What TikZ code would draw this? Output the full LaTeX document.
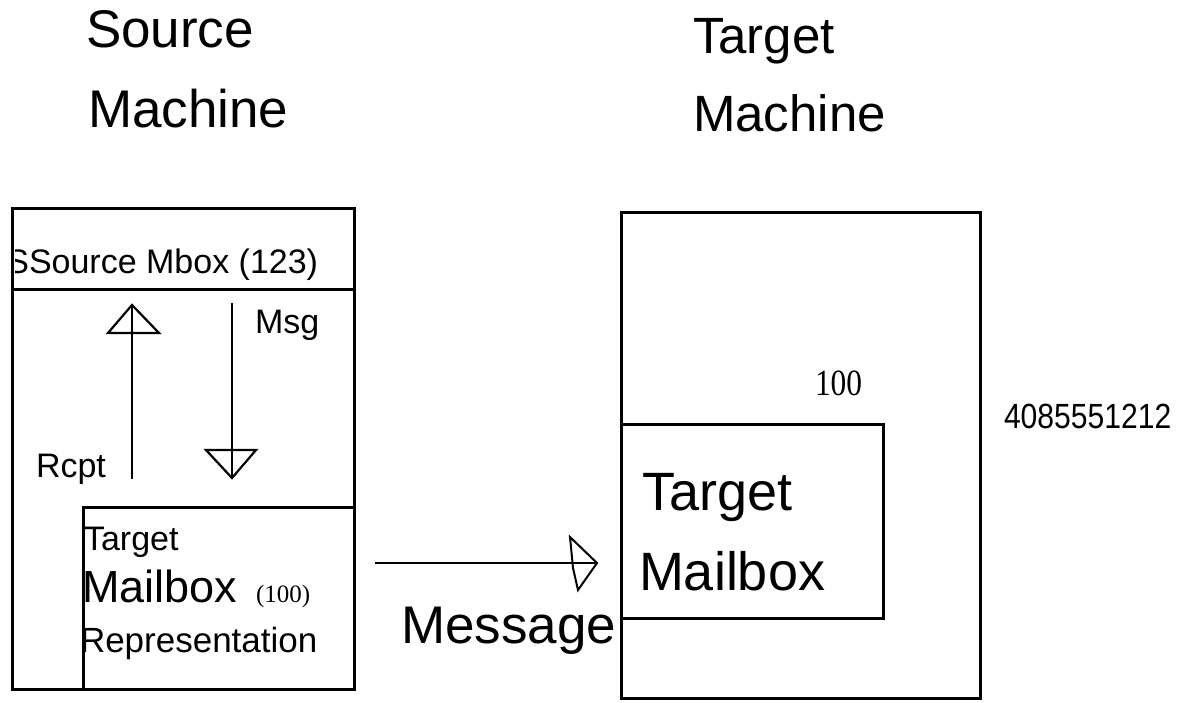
\documentclass[tikz,border=0pt]{standalone}
\usepackage{fontspec}
\setmainfont{Liberation Sans}
\newfontfamily\numserif{Liberation Serif}
\newcommand\setpx[1]{\fontsize{#1}{#1}\selectfont}
\begin{document}
\begin{tikzpicture}[x=1pt,y=-1pt,
  box/.style={line width=3pt, line join=miter},
  wire/.style={line width=2pt},
  head/.style={line width=2.2pt, line join=miter},
  lbl/.style={anchor=base west, inner sep=0pt, outer sep=0pt},
]
\useasboundingbox (0,0) rectangle (1183,703);

% ---- corner points of the machine boxes
\coordinate (snw) at (12,209);
\coordinate (sse) at (354,689);
\coordinate (hdl) at (12,290);
\coordinate (hdr) at (354,290);
\coordinate (rnw) at (83,507);
\coordinate (rne) at (354,507);
\coordinate (rsw) at (83,689);
\coordinate (tnw) at (621,213);
\coordinate (tse) at (980,698);
\coordinate (mnw) at (621,424);
\coordinate (mse) at (883,618);

% ---- titles
\node[lbl] (srct1) at (86,48)  {\setpx{53}Source};
\node[lbl] (srct2) at (88,128) {\setpx{53}Machine};
\node[lbl] (tgtt1) at (693,54) {\setpx{51}Target};
\node[lbl] (tgtt2) at (693,132){\setpx{51}Machine};

% ---- source machine
\draw[box] (snw) rectangle (sse);
\draw[box] (hdl) -- (hdr);
\draw[box] (rsw) -- (rnw) -- (rne);

\begin{scope}
  \clip (15,220) rectangle (40,285);
  \node[lbl, anchor=base east] (cutS) at (29,273) {\setpx{34}S};
\end{scope}
\node[lbl] (smbox) at (29,273) {\setpx{34}Source Mbox (123)};

% receipt arrow (up) and message arrow (down)
\coordinate (rcb) at (132,479);
\coordinate (rct) at (132,306);
\draw[wire] (rcb) -- (rct);
\draw[head] (132,305) -- (108,333) -- (159,333) -- cycle;

\coordinate (msb) at (232,303);
\coordinate (mst) at (232,476);
\draw[wire] (msb) -- (mst);
\draw[head] (206,450) -- (256,450) -- (232,478) -- cycle;

\node[lbl] (msg)  at (255,333) {\setpx{34}Msg};
\node[lbl] (rcpt) at (36,477)  {\setpx{34}Rcpt};

\node[lbl] (rep1) at (84,550) {\setpx{34}Target};
\node[lbl] (rep2) at (82,602) {\setpx{45}Mailbox};
\node[lbl] (rep3) at (256,602) {\numserif\setpx{25}(100)};
\node[lbl] (rep4) at (80,652) {\setpx{35}Representation};

% ---- message transfer
\coordinate (xa) at (375,563);
\coordinate (xb) at (597,563);
\draw[wire, line width=1.6pt] (xa) -- (xb);
\draw[head, line width=2pt] (570,537) -- (xb) -- (578,590) -- (573,568) -- cycle;
\node[lbl] (msgl) at (401,643) {\setpx{53}Message};

% ---- target machine
\draw[box] (tnw) rectangle (tse);
\draw[box] (mnw) rectangle (mse);
\node[lbl] (num) at (815,395) {\numserif\scalebox{0.85}[1]{\setpx{37}100}};
\node[lbl] (tmb1) at (642,510) {\setpx{54}Target};
\node[lbl] (tmb2) at (639,590) {\setpx{54}Mailbox};
\node[lbl] (phone) at (1004,428) {\scalebox{0.86}[1]{\setpx{35}4085551212}};
\end{tikzpicture}
\end{document}
